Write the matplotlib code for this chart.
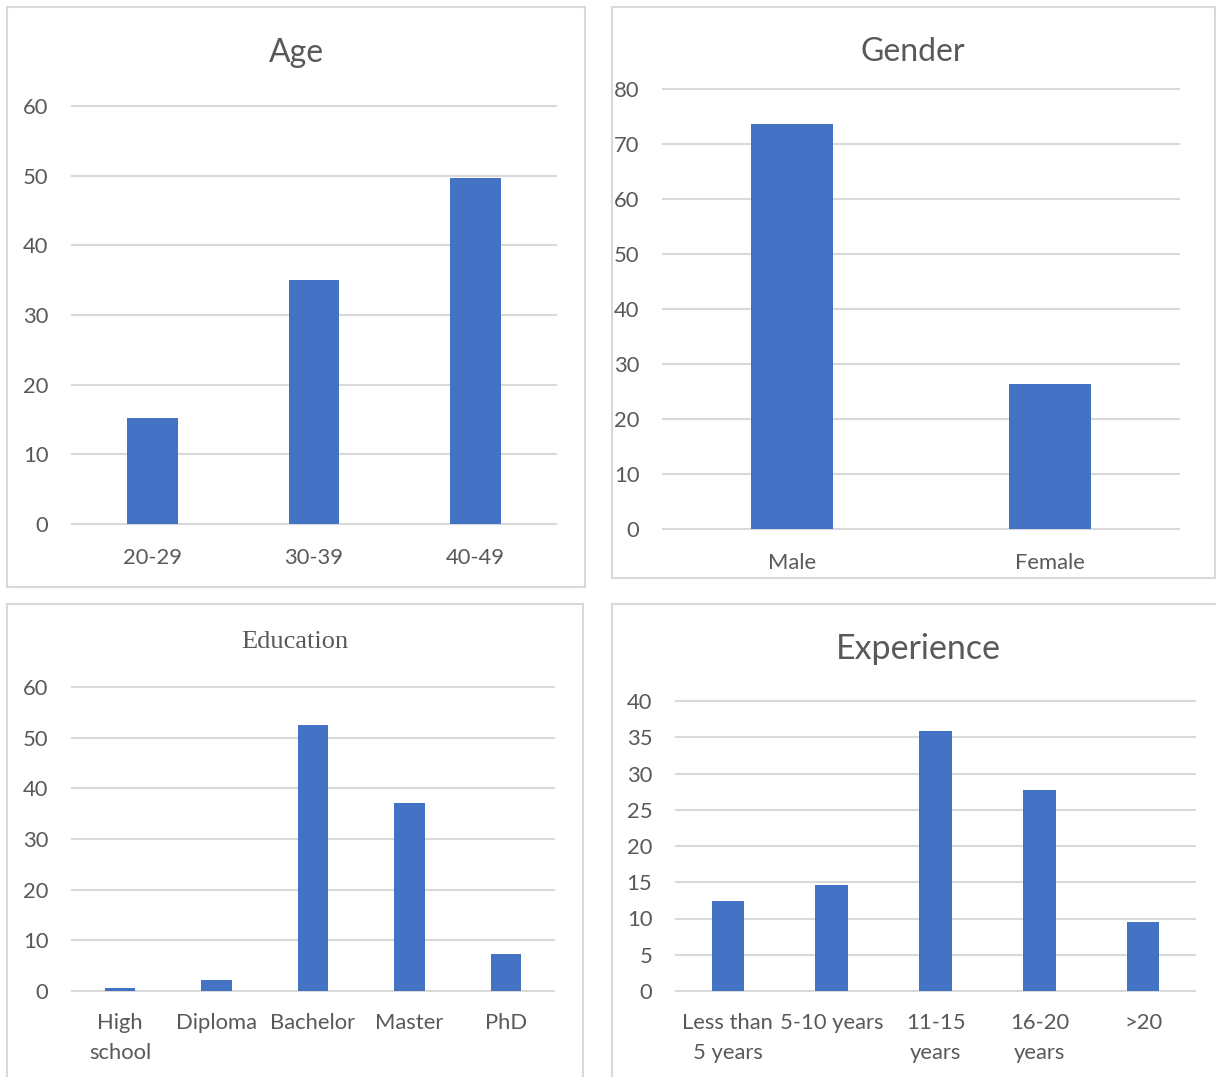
import matplotlib
matplotlib.use('Agg')
import matplotlib.pyplot as plt
from matplotlib.patches import Rectangle

# survey breakdown, percent of respondents
age_labels = ['20-29', '30-39', '40-49']
age_values = [15.2, 35.0, 49.6]

gender_labels = ['Male', 'Female']
gender_values = [73.7, 26.3]

edu_labels = ['High\nschool', 'Diploma', 'Bachelor', 'Master', 'PhD']
edu_values = [0.6, 2.2, 52.5, 37.1, 7.3]

exp_labels = ['Less than\n5 years', '5-10 years', '11-15\nyears', '16-20\nyears', '>20']
exp_values = [12.4, 14.6, 35.8, 27.7, 9.5]

BLUE = '#4472C4'
GRID = '#D9D9D9'
TEXT = '#595959'

plt.rcParams['font.family'] = ['Lato', 'DejaVu Sans']

W, H = 1216, 1077
fig = plt.figure(figsize=(W / 100, H / 100), dpi=100)


def frame(x0, y0, x1, y1):
    # light grey border around each chart
    fig.patches.append(Rectangle((x0 / W, 1 - y1 / H), (x1 - x0) / W, (y1 - y0) / H,
                                 transform=fig.transFigure, fill=False,
                                 ec=GRID, lw=1.5))


def bar_panel(rect, labels, values, ymax, step, title, title_pos, title_size,
              title_family=None, xpad=17):
    x0, y0, x1, y1 = rect
    ax = fig.add_axes([x0 / W, 1 - y1 / H, (x1 - x0) / W, (y1 - y0) / H])
    pos = range(len(labels))
    ax.bar(pos, values, width=0.315, color=BLUE, zorder=3)
    ax.set_xlim(-0.5, len(labels) - 0.5)
    ax.set_ylim(0, ymax)
    ax.set_yticks(range(0, ymax + 1, step))
    ax.set_xticks(list(pos))
    ax.set_xticklabels(labels, linespacing=1.62)
    for s in ax.spines.values():
        s.set_visible(False)
    ax.yaxis.grid(True, color=GRID, lw=1.5)
    for g in ax.get_ygridlines():
        g.set_clip_on(False)
    ax.set_axisbelow(True)
    ax.tick_params(axis='y', length=0, pad=17, labelsize=15.8, labelcolor=TEXT)
    ax.tick_params(axis='x', length=0, pad=xpad, labelsize=15.8, labelcolor=TEXT)
    kw = dict(ha='center', va='baseline', color=TEXT, fontsize=title_size)
    if title_family:
        kw['family'] = title_family
    fig.text(title_pos[0] / W, 1 - title_pos[1] / H, title, **kw)
    return ax


frame(7, 7, 585, 587)
bar_panel((72, 106, 556, 524), age_labels, age_values, 60, 10,
          'Age', (296, 62), 23)

frame(612, 7, 1215, 578)
bar_panel((663, 89, 1179, 529), gender_labels, gender_values, 80, 10,
          'Gender', (913, 61), 23)

frame(7, 604, 583, 1090)
bar_panel((72, 687, 554, 991), edu_labels, edu_values, 60, 10,
          'Education', (295, 648), 19, title_family='Liberation Serif', xpad=16)

frame(612, 604, 1230, 1090)
bar_panel((676, 701, 1195, 991), exp_labels, exp_values, 40, 5,
          'Experience', (918, 659), 24.5, xpad=16)

fig.savefig('out.png', dpi=100, facecolor='white')
